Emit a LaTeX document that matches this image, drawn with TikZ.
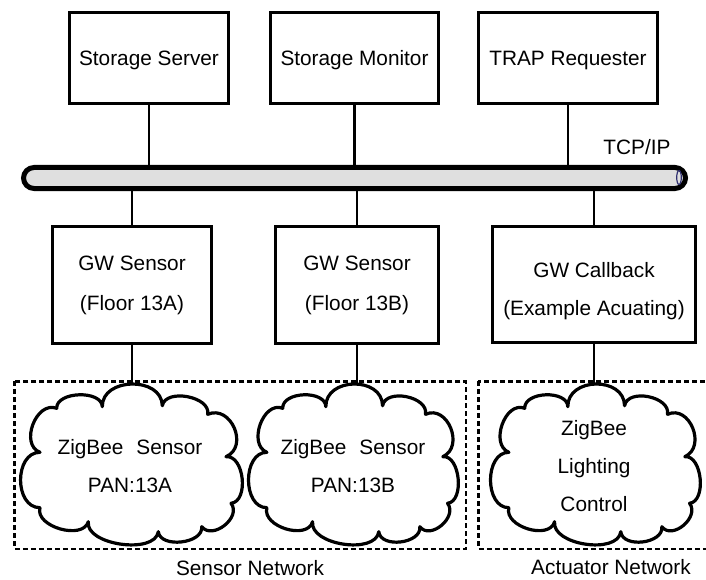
\documentclass[tikz,border=0pt]{standalone}
\usepackage{fontspec}
\setmainfont{Liberation Sans}

% cloud outline built from lobes between notch points; #1 top coordinate name
\newcommand\netcloud[4]{%
  \begin{scope}[shift={(#2,#3)}, xscale=#4]
    \draw[cloudline, fill=white]
      (-28.2,56.8) to[lobe=1.26] (31.8,57.8) to[lobe=1.0] (77.2,49.2)
      to[lobe=1.4] (95.5,6.8) to[lobe=1.0] (100.5,-39.8)
      to[lobe=1.2] (71.2,-63.2) to[lobe=1.0] (27.8,-68.2)
      to[lobe=0.85] (-42.2,-58.2) to[lobe=1.0] (-90.5,-44.2)
      to[lobe=1.2] (-90.5,11.2) to[lobe=1.2] (-73.8,55.2)
      to[lobe=0.95] (-28.2,56.8) -- cycle;
    \coordinate (#1) at (1.5,79.5);
  \end{scope}}

\definecolor{pipegrey}{HTML}{DFDFDF}
\definecolor{capblue}{HTML}{2E2E70}

\begin{document}
\begin{tikzpicture}[x=1pt,y=1pt,
  box/.style={draw, line width=2.8pt, inner sep=0pt, align=center,
    font=\fontsize{20.8}{40}\selectfont},
  topbox/.style={draw, line width=2.8pt, inner sep=0pt, text depth=0pt,
    font=\fontsize{20.8}{25}\selectfont, minimum height=91.2pt},
  wire/.style={line width=2.2pt},
  cloudline/.style={line width=3.2pt, line join=round},
  lobe/.style={out=90, in=90, relative, looseness=#1},
  netframe/.style={line width=2.5pt, dash pattern=on 5pt off 3pt},
  txt/.style={inner sep=0pt, align=center, font=\fontsize{20.8}{38}\selectfont}]

\useasboundingbox (0,0) rectangle (706,-580);

% servers on the backbone
\node[topbox, minimum width=159.2pt] (ss)   at (149,-58)   {Storage Server};
\node[topbox, minimum width=168.2pt] (sm)   at (354.5,-58) {Storage Monitor};
\node[topbox, minimum width=179.2pt] (trap) at (568,-58)   {TRAP Requester};

% TCP/IP backbone
\node[draw, line width=5pt, fill=pipegrey, rounded corners=10.5pt, inner sep=0pt,
      minimum width=662pt, minimum height=21pt] (bus) at (354.5,-178) {};
\draw[capblue, line width=1.2pt] (679,-177.5) ellipse [x radius=2.3, y radius=7];
\node[txt] (tcp) at (637,-147) {TCP/IP};

% gateways
\node[box, minimum width=159.2pt, minimum height=117.2pt] (gwa) at (132,-285) {GW Sensor\\(Floor 13A)};
\node[box, minimum width=163.2pt, minimum height=117.2pt] (gwb) at (357,-285) {GW Sensor\\(Floor 13B)};
\node[box, minimum width=203.2pt, minimum height=116.2pt] (gwc) at (594,-284.5) {};
\node[txt] (gwctext) at (594,-291) {GW Callback\\(Example Acuating)};

% network frames
\draw[netframe] (14.25,-381.25) rectangle (465.75,-548.75);
\draw[netframe] (478.25,-381.25) rectangle (712,-548.75);

% ZigBee clouds
\netcloud{cla}{130.5}{-463.5}{1}
\netcloud{clb}{352.5}{-463.5}{0.946}
\netcloud{clc}{594.5}{-463.5}{0.946}

\node[txt] (za) at (130,-466) {ZigBee\hspace{13pt}Sensor\\PAN:13A};
\node[txt] (zb) at (353,-466) {ZigBee\hspace{13pt}Sensor\\PAN:13B};
\node[txt] (zc) at (594,-466.5) {ZigBee\\Lighting\\Control};

% links
\draw[wire] (ss.south)   -- (ss.south |- bus.north);
\draw[wire] (sm.south)   -- (sm.south |- bus.north);
\draw[wire] (trap.south) -- (trap.south |- bus.north);
\draw[wire] (bus.south -| gwa.north) -- (gwa.north);
\draw[wire] (bus.south -| gwb.north) -- (gwb.north);
\draw[wire] (bus.south -| gwc.north) -- (gwc.north);
\draw[wire] (gwa.south) -- (gwa.south |- cla);
\draw[wire] (gwb.south) -- (gwb.south |- clb);
\draw[wire] (gwc.south) -- (gwc.south |- clc);

% network captions
\node[txt, text depth=0pt] (sensnet) at (250,-567.5) {Sensor Network};
\node[txt, text depth=0pt] (actnet)  at (611,-567) {Actuator Network};
\end{tikzpicture}
\end{document}
